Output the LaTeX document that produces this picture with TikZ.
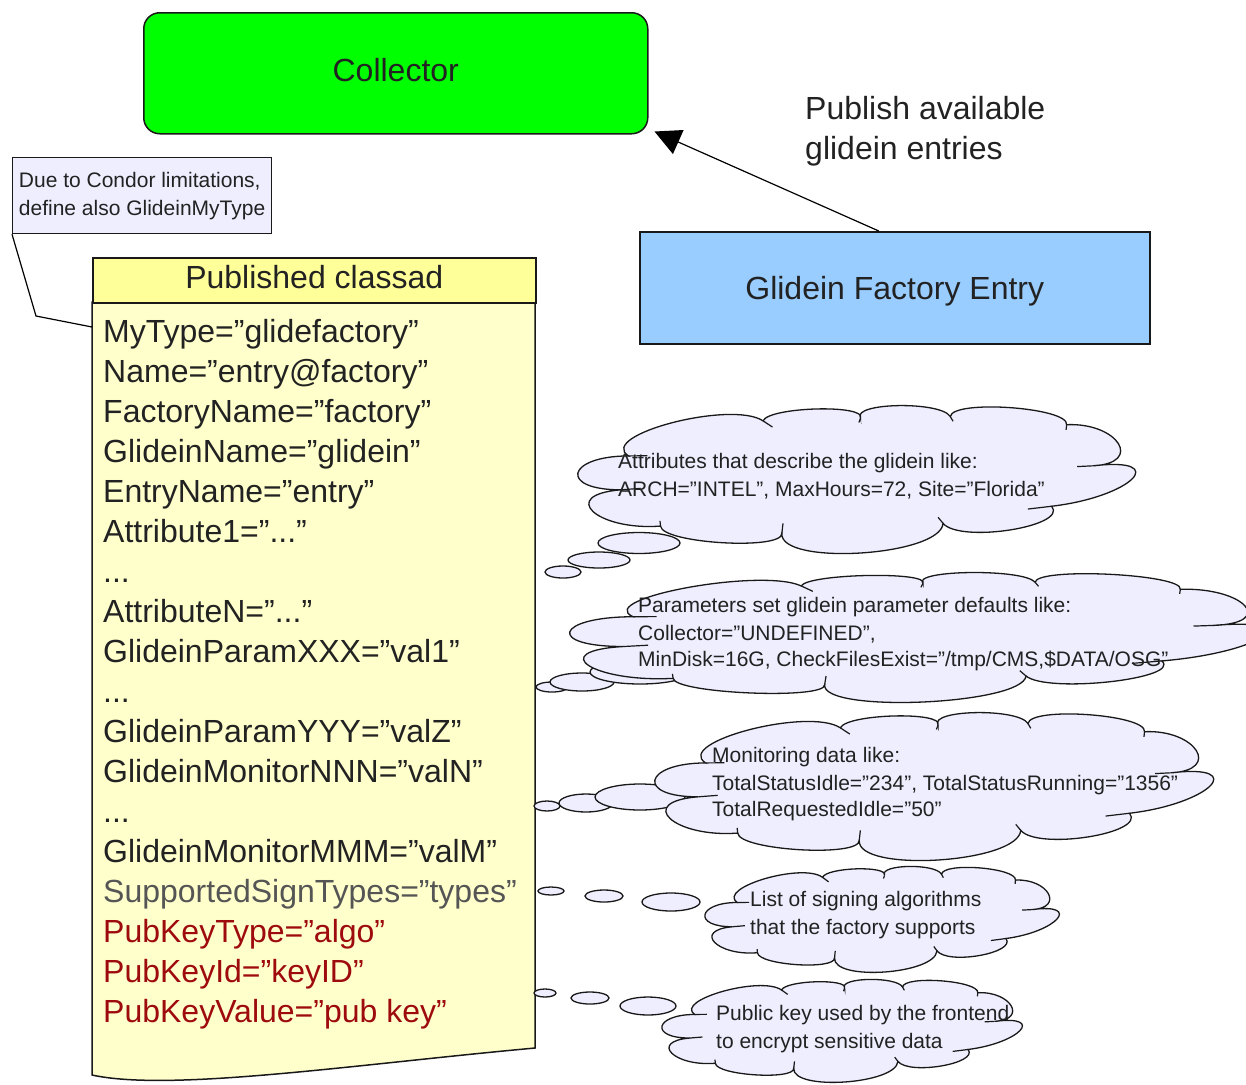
\documentclass[tikz,border=0pt]{standalone}
\usepackage{fontspec}
\setmainfont{Liberation Sans}
\usetikzlibrary{arrows.meta}

\definecolor{collectorgreen}{HTML}{00FF00}
\definecolor{entryblue}{HTML}{99CCFF}
\definecolor{headyellow}{HTML}{FFFF99}
\definecolor{bodyyellow}{HTML}{FFFFCC}
\definecolor{notefill}{HTML}{EEEEFF}
\definecolor{inktext}{HTML}{222222}
\definecolor{signgray}{HTML}{555555}
\definecolor{keyred}{HTML}{9E0B0F}

\tikzset{
  outline/.style={draw=black!90, line width=1.5pt},
  bigfont/.style={font=\fontsize{32}{40}\selectfont, text=inktext},
  smallfont/.style={font=\fontsize{21}{28}\selectfont, text=inktext},
  attrline/.style={bigfont, anchor=base west, inner sep=0pt},
  cloudline/.style={smallfont, anchor=base west, inner sep=0pt},
  bubble/.style={outline, line width=1.3pt, fill=notefill},
  % a thought cloud in a unit box (0,0)--(1,1), y growing downwards
  pics/thoughtcloud/.style={code={
    \path[outline, line width=1.3pt, fill=notefill]
      (0.078,0.573)
      .. controls (-0.035,0.575) and (-0.022,0.346) .. (0.091,0.344)
      .. controls (0.034,0.203) and (0.277,-0.034) .. (0.334,0.107)
      .. controls (0.345,0.012) and (0.521,-0.006) .. (0.510,0.089)
      .. controls (0.493,-0.017) and (0.655,-0.028) .. (0.672,0.078)
      .. controls (0.676,-0.039) and (0.886,0.016) .. (0.882,0.133)
      .. controls (0.975,0.117) and (1.022,0.395) .. (0.929,0.411)
      .. controls (1.073,0.348) and (0.999,0.621) .. (0.855,0.684)
      .. controls (0.886,0.820) and (0.690,0.936) .. (0.659,0.800)
      .. controls (0.654,1.022) and (0.363,1.089) .. (0.368,0.867)
      .. controls (0.370,0.984) and (0.151,0.935) .. (0.149,0.818)
      .. controls (0.034,0.851) and (-0.037,0.606) .. (0.078,0.573) -- cycle;
    \draw[line width=1.2pt, black!90]
      (0.091,0.344) -- (0.125,0.343)  (0.334,0.107) -- (0.351,0.149)
      (0.510,0.089) -- (0.507,0.118)  (0.672,0.078) -- (0.677,0.110)
      (0.882,0.133) -- (0.881,0.168)  (0.929,0.411) -- (0.901,0.416)
      (0.855,0.684) -- (0.812,0.703)  (0.659,0.800) -- (0.650,0.759)
      (0.368,0.867) -- (0.370,0.800)  (0.149,0.818) -- (0.148,0.783)
      (0.078,0.573) -- (0.113,0.563);
  }},
}

\begin{document}
\begin{tikzpicture}[x=1pt,y=-1pt]
\useasboundingbox (0,0) rectangle (1246,1084);

% collector and factory entry
\node[outline, fill=collectorgreen, rounded corners=16pt, anchor=north west,
      minimum width=504pt, minimum height=121pt, bigfont, text depth=6.5pt]
      (collector) at (143,12) {Collector};
\node[outline, fill=entryblue, anchor=north west,
      minimum width=510pt, minimum height=112pt, bigfont, text depth=0pt]
      (entry) at (639,231) {Glidein Factory Entry};
\draw[line width=1.2pt, -{Triangle[length=26pt,width=26pt]}]
  ([xshift=-16pt]entry.north) -- ([xshift=6pt,yshift=3pt]collector.south east);
\node[bigfont, align=left, anchor=west, inner sep=0pt] (publish) at (805,131)
  {Publish available\\glidein entries};

% published classad
\path[outline, fill=bodyyellow] (92,302) -- (535,302) -- (535,1048)
  .. controls (350,1065) and (170,1092) .. (92,1075) -- cycle;
\node[outline, fill=headyellow, anchor=north west, minimum width=443pt,
      minimum height=45pt, bigfont, text depth=6.4pt] (header) at (92,257)
      {Published classad};

\node[attrline] (attr0) at (103,342) {MyType=”glidefactory”};
\node[attrline] (attr1) at (103,382) {Name=”entry@factory”};
\node[attrline] (attr2) at (103,422) {FactoryName=”factory”};
\node[attrline] (attr3) at (103,462) {GlideinName=”glidein”};
\node[attrline] (attr4) at (103,502) {EntryName=”entry”};
\node[attrline] (attr5) at (103,542) {Attribute1=”...”};
\node[attrline] (attr6) at (103,582) {...};
\node[attrline] (attr7) at (103,622) {AttributeN=”...”};
\node[attrline] (attr8) at (103,662) {GlideinParamXXX=”val1”};
\node[attrline] (attr9) at (103,702) {...};
\node[attrline] (attr10) at (103,742) {GlideinParamYYY=”valZ”};
\node[attrline] (attr11) at (103,782) {GlideinMonitorNNN=”valN”};
\node[attrline] (attr12) at (103,822) {...};
\node[attrline] (attr13) at (103,862) {GlideinMonitorMMM=”valM”};
\node[attrline, text=signgray] (attr14) at (103,902) {SupportedSignTypes=”types”};
\node[attrline, text=keyred] (attr15) at (103,942) {PubKeyType=”algo”};
\node[attrline, text=keyred] (attr16) at (103,982) {PubKeyId=”keyID”};
\node[attrline, text=keyred] (attr17) at (103,1022) {PubKeyValue=”pub key”};

% note about MyType
\node[draw=black!90, line width=1.2pt, fill=notefill, anchor=north west,
      minimum width=259pt, minimum height=76pt, smallfont, align=left,
      inner sep=4pt] (note) at (12,157)
      {Due to Condor limitations,\\define also GlideinMyType};
\coordinate (notebend) at (36,316);
\coordinate (noteend) at (92,327);
\draw[line width=1.2pt] (note.south west) -- (notebend) -- (noteend);

% thought bubbles leading from the classad to the clouds
\draw[bubble] (563,572) ellipse [x radius=18pt, y radius=6pt];
\draw[bubble] (599,560) ellipse [x radius=31pt, y radius=8pt];
\draw[bubble] (639,543) ellipse [x radius=41pt, y radius=10.5pt];

\draw[bubble] (552,687) ellipse [x radius=16pt, y radius=5pt];
\draw[bubble] (582,682) ellipse [x radius=32pt, y radius=9pt];
\draw[bubble] (640,672) ellipse [x radius=50pt, y radius=12pt];

\draw[bubble] (547,806) ellipse [x radius=13pt, y radius=5pt];
\draw[bubble] (586,803) ellipse [x radius=27pt, y radius=9pt];
\draw[bubble] (640,797) ellipse [x radius=45pt, y radius=13pt];

\draw[bubble] (551,891) ellipse [x radius=13pt, y radius=4pt];
\draw[bubble] (604,896) ellipse [x radius=19pt, y radius=6pt];
\draw[bubble] (671,902) ellipse [x radius=29pt, y radius=9pt];

\draw[bubble] (545,993) ellipse [x radius=11pt, y radius=4pt];
\draw[bubble] (590,998) ellipse [x radius=19pt, y radius=6pt];
\draw[bubble] (648,1006) ellipse [x radius=28pt, y radius=9pt];

% clouds
\pic[xscale=554, yscale=148] (cloud1) at (578,405) {thoughtcloud};
\pic[xscale=692, yscale=130] (cloud2) at (570,572) {thoughtcloud};
\pic[xscale=555, yscale=148] (cloud3) at (655,712) {thoughtcloud};
\pic[xscale=352, yscale=106] (cloud4) at (705,866) {thoughtcloud};
\pic[xscale=358, yscale=103] (cloud5) at (662,979) {thoughtcloud};

\node[cloudline] (c1a) at (618,468) {Attributes that describe the glidein like:};
\node[cloudline] (c1b) at (618,496) {ARCH="INTEL", MaxHours=72, Site="Florida"};
\node[cloudline] (c2a) at (638,612) {Parameters set glidein parameter defaults like:};
\node[cloudline] (c2b) at (638,640) {Collector="UNDEFINED",};
\node[cloudline] (c2c) at (638,666) {MinDisk=16G, CheckFilesExist="/tmp/CMS,\$DATA/OSG"};
\node[cloudline] (c3a) at (712,762) {Monitoring data like:};
\node[cloudline] (c3b) at (712,790) {TotalStatusIdle="234", TotalStatusRunning="1356"};
\node[cloudline] (c3c) at (712,816) {TotalRequestedIdle="50"};
\node[cloudline] (c4a) at (750,906) {List of signing algorithms};
\node[cloudline] (c4b) at (750,934) {that the factory supports};
\node[cloudline] (c5a) at (716,1020) {Public key used by the frontend};
\node[cloudline] (c5b) at (716,1048) {to encrypt sensitive data};
\end{tikzpicture}
\end{document}
